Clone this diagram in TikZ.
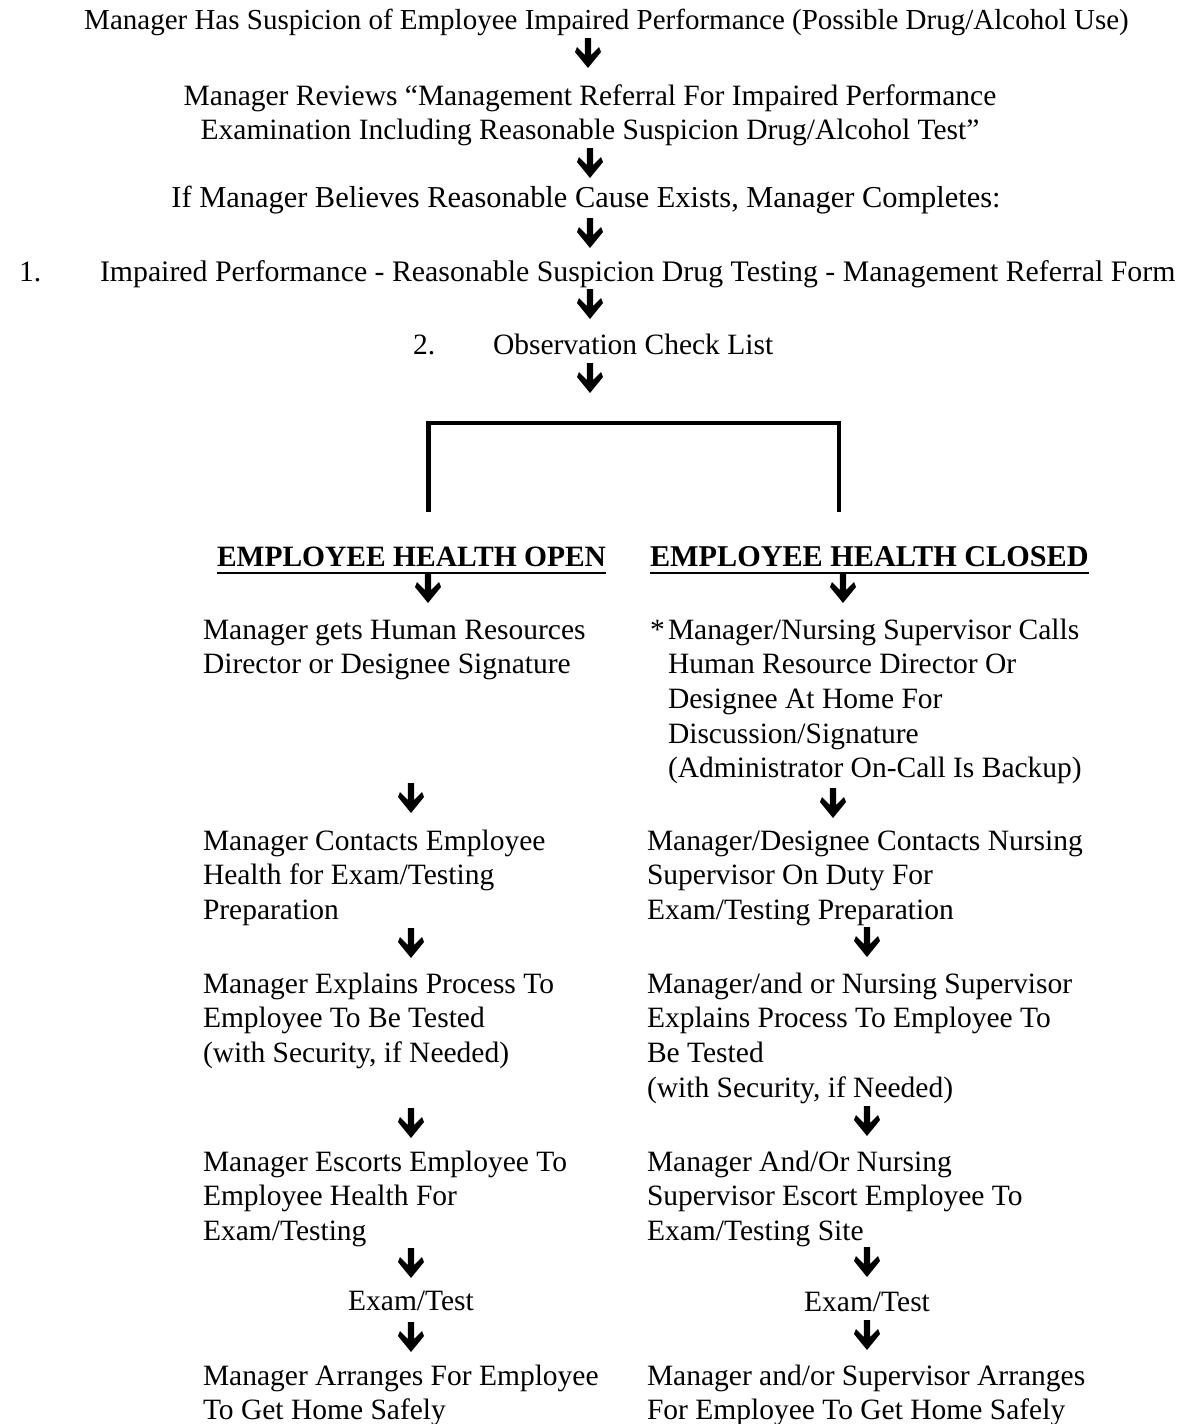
\documentclass[tikz,border=0pt]{standalone}
\usepackage{fontspec}
\setmainfont{Liberation Serif}
\newcommand\fsz[1]{\fontsize{#1}{17.35pt}\selectfont}
\begin{document}
\begin{tikzpicture}[x=0.5pt,y=-0.5pt,
  txt/.style={inner sep=0pt, outer sep=0pt, font=\fsz{14.75pt}},
  blk/.style={txt, align=left, anchor=north west, yshift=12.145pt},
  ctr/.style={txt, align=center, anchor=north, yshift=12.145pt},
  one/.style={txt, anchor=base west},
  onec/.style={txt, anchor=base},
  hdr/.style={txt, anchor=base west, font=\fsz{14.75pt}\bfseries},
  uline/.style={line width=1pt},
  bracket/.style={line width=2.25pt, line join=miter},
  pics/darrow/.style={code={
    \fill[black] (-3.2,0) -- (3.2,0) -- (3.2,17) -- (11,9) -- (13,14) -- (0,30)
      -- (-13,14) -- (-11,9) -- (-3.2,17) -- cycle;}}
]
\useasboundingbox (0,0) rectangle (1186,1424);

% ---- top sequence ----
\node[ctr, font=\fsz{14.5pt}] (t1) at (606.5,29) {\strut Manager Has Suspicion of Employee Impaired Performance (Possible Drug/Alcohol Use)};
\pic at (588,38) {darrow};
\node[ctr] (t2) at (590,105) {\strut Manager Reviews “Management Referral For Impaired Performance\\Examination Including Reasonable Suspicion Drug/Alcohol Test”};
\pic at (590,148) {darrow};
\node[ctr, font=\fsz{15.2pt}] (t3) at (586,207) {\strut If Manager Believes Reasonable Cause Exists, Manager Completes:};
\pic at (590,218) {darrow};
\node[one] (n1) at (19,281) {1.};
\node[one, font=\fsz{14.9pt}] (t4) at (100,281) {Impaired Performance - Reasonable Suspicion Drug Testing - Management Referral Form};
\pic at (590,289) {darrow};
\node[one] (n2) at (413,354) {2.};
\node[one] (t5) at (493,354) {Observation Check List};
\pic at (590,363) {darrow};

% ---- bracket ----
\coordinate (bl) at (428.5,512);
\coordinate (blt) at (428.5,423);
\coordinate (brt) at (839,423);
\coordinate (br) at (839,512);
\draw[bracket] (bl) -- (blt) -- (brt) -- (br);

% ---- headers ----
\node[hdr] (hl) at (217,566) {EMPLOYEE HEALTH OPEN};
\node[hdr, font=\fsz{15.1pt}\bfseries] (hr) at (650,566) {EMPLOYEE HEALTH CLOSED};
\draw[uline] ([yshift=-3.4pt]hl.base west) -- ([yshift=-3.4pt]hl.base east);
\draw[uline] ([yshift=-3.4pt]hr.base west) -- ([yshift=-3.4pt]hr.base east);
\pic at (428,573) {darrow};
\pic at (843,573) {darrow};

% ---- left column ----
\node[blk] (l1) at (203,639) {\strut Manager gets Human Resources\\Director or Designee Signature};
\pic at (411,783) {darrow};
\node[blk] (l2) at (203,850) {\strut Manager Contacts Employee\\Health for Exam/Testing\\Preparation};
\pic at (411,928) {darrow};
\node[blk] (l3) at (203,993) {\strut Manager Explains Process To\\Employee To Be Tested\\(with Security, if Needed)};
\pic at (411,1108) {darrow};
\node[blk] (l4) at (203,1171) {\strut Manager Escorts Employee To\\Employee Health For\\Exam/Testing};
\pic at (411,1248) {darrow};
\node[onec] (l5) at (411,1310) {Exam/Test};
\pic at (411,1322) {darrow};
\node[blk] (l6) at (203,1385) {\strut Manager Arranges For Employee\\To Get Home Safely};

% ---- right column ----
\node[one] (star) at (650,639) {*};
\node[blk] (r1) at (668,639) {\strut Manager/Nursing Supervisor Calls\\Human Resource Director Or\\Designee At Home For\\Discussion/Signature\\(Administrator On-Call Is Backup)};
\pic at (833,788) {darrow};
\node[blk] (r2) at (647,850) {\strut Manager/Designee Contacts Nursing\\Supervisor On Duty For\\Exam/Testing Preparation};
\pic at (867,927) {darrow};
\node[blk] (r3) at (647,993) {\strut Manager/and or Nursing Supervisor\\Explains Process To Employee To\\Be Tested\\(with Security, if Needed)};
\pic at (867,1106) {darrow};
\node[blk] (r4) at (647,1171) {\strut Manager And/Or Nursing\\Supervisor Escort Employee To\\Exam/Testing Site};
\pic at (867,1247) {darrow};
\node[onec] (r5) at (867,1311) {Exam/Test};
\pic at (867,1320) {darrow};
\node[blk] (r6) at (647,1385) {\strut Manager and/or Supervisor Arranges\\For Employee To Get Home Safely};
\end{tikzpicture}
\end{document}
